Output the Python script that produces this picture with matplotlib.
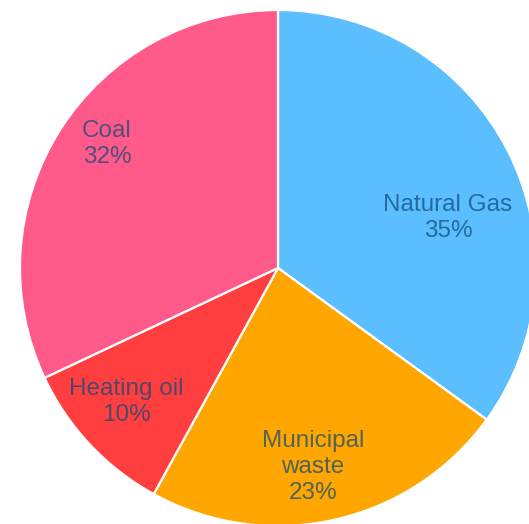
import matplotlib.pyplot as plt

# Data
labels = ['Natural Gas', 'Municipal\nwaste', 'Heating oil', 'Coal']
shares = [35, 23, 10, 32]
colors = ['#5BBEFF', '#FFA600', '#FF3F3F', '#FF5A8A']

# label positions (pixels from pie centre, y up)
label_pos = [(170, 50), (35, -199), (-152, -134), (-171, 124)]

W, H = 529, 524
cx, cy = 278, 268
R = 258

fig = plt.figure(figsize=(W / 100, H / 100), dpi=100)
ax = fig.add_axes([0, 0, 1, 1])

ax.pie(shares, colors=colors, startangle=90, counterclock=False, radius=R,
       center=(0, 0), wedgeprops={'edgecolor': 'white', 'linewidth': 1.6})

for lab, val, (x, y) in zip(labels, shares, label_pos):
    ax.text(x, y, f'{lab}\n{val}%', ha='center', va='center', fontsize=17.5,
            family='Liberation Sans', color='#0d4a7a', alpha=0.72,
            linespacing=1.25)

ax.set_xlim(-cx, W - cx)
ax.set_ylim(-(H - cy), cy)
ax.set_aspect('equal')
ax.axis('off')

fig.savefig('out.png', dpi=100)
